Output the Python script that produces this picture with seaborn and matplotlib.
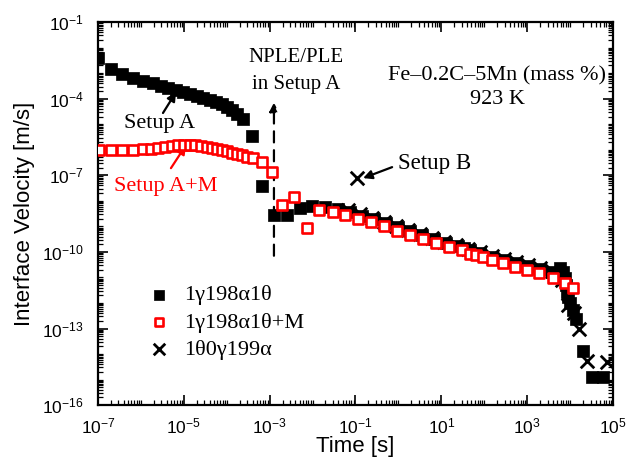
import numpy as np
import seaborn as sns
import matplotlib.pyplot as plt
from matplotlib.ticker import LogLocator, LogFormatterMathtext, NullFormatter

# log10 values
# Setup A (1γ198α1θ), black filled squares
log_t_a = [-7.0, -6.70, -6.44, -6.18, -5.95, -5.72, -5.53, -5.37, -5.18, -5.02,
           -4.86, -4.69, -4.55, -4.39, -4.25, -4.11, -3.99, -3.88, -3.76, -3.62,
           -3.41, -3.18, -2.90, -2.59, -2.29, -2.01, -1.71,
           -1.41, -1.13, -0.85, -0.57, -0.29, -0.01, 0.27, 0.55, 0.83, 1.11,
           1.39, 1.53, 1.67, 1.90, 2.18, 2.46, 2.74, 3.02, 3.30, 3.58,
           3.77, 3.84, 3.89, 3.91, 3.93, 3.96, 4.00, 4.07, 4.14, 4.31, 4.52, 4.77]
log_v_a = [-2.41, -2.84, -3.04, -3.19, -3.31, -3.39, -3.51, -3.59, -3.66, -3.74,
           -3.82, -3.90, -3.98, -4.06, -4.13, -4.21, -4.33, -4.45, -4.60, -4.80,
           -5.47, -7.42, -8.56, -8.56, -8.29, -8.21, -8.25,
           -8.32, -8.44, -8.60, -8.72, -8.87, -9.03, -9.19, -9.34, -9.50, -9.66,
           -9.77, -9.85, -9.93, -10.05, -10.20, -10.32, -10.44, -10.56, -10.67, -10.79,
           -10.64, -10.79, -11.03, -11.30, -11.58, -11.77, -12.01, -12.28, -12.63,
           -13.89, -14.91, -14.91]

# Setup A+M (1γ198α1θ+M), red open squares
log_t_m = [-6.98, -6.70, -6.44, -6.18, -5.95, -5.76, -5.60, -5.44, -5.28, -5.14,
           -5.00, -4.86, -4.74, -4.60, -4.46, -4.34, -4.23, -4.11, -3.99, -3.88,
           -3.76, -3.64, -3.53, -3.39, -3.18, -2.94,
           -2.71, -2.43, -2.13, -1.85, -1.52, -1.24, -0.94, -0.64, -0.33, -0.03,
           0.27, 0.58, 0.88, 1.18, 1.48, 1.67, 1.81, 1.97, 2.18, 2.44,
           2.72, 3.00, 3.28, 3.61, 3.89, 4.07]
log_v_m = [-6.01, -6.01, -6.01, -6.01, -5.97, -5.97, -5.94, -5.90, -5.86, -5.82,
           -5.82, -5.82, -5.82, -5.86, -5.90, -5.94, -5.97, -6.01, -6.05, -6.13,
           -6.17, -6.21, -6.29, -6.33, -6.48, -6.88,
           -8.17, -7.85, -9.07, -8.36, -8.44, -8.56, -8.72, -8.83, -8.99, -9.19,
           -9.34, -9.50, -9.66, -9.81, -9.93, -10.09, -10.13, -10.20, -10.32, -10.44,
           -10.60, -10.71, -10.83, -11.03, -11.22, -11.42]

# Setup B (1θ0γ199α), black crosses
log_t_b = [-0.96, -1.17, -0.89, -0.61, -0.33, -0.05, 0.23, 0.51, 0.79, 1.07,
           1.35, 1.62, 1.90, 2.18, 2.46, 2.74, 3.02, 3.30, 3.58, 3.82,
           3.96, 4.10, 4.21, 4.40, 4.86]
log_v_b = [-7.11, -8.36, -8.52, -8.68, -8.83, -8.99, -9.15, -9.30, -9.46, -9.62,
           -9.73, -9.89, -10.01, -10.17, -10.28, -10.40, -10.52, -10.64, -10.75, -11.11,
           -12.09, -12.40, -13.03, -14.28, -14.32]

labels = ["1γ198α1θ", "1γ198α1θ+M", "1θ0γ199α"]

t_a, v_a = 10.0 ** np.array(log_t_a), 10.0 ** np.array(log_v_a)
t_m, v_m = 10.0 ** np.array(log_t_m), 10.0 ** np.array(log_v_m)
t_b, v_b = 10.0 ** np.array(log_t_b), 10.0 ** np.array(log_v_b)

sns.set_theme(style="ticks")
plt.rcParams['font.family'] = ['Liberation Sans', 'DejaVu Sans']
plt.rcParams['mathtext.fontset'] = 'custom'
plt.rcParams['mathtext.rm'] = 'Liberation Sans'
plt.rcParams['mathtext.it'] = 'Liberation Sans'
for k in ['text.color', 'axes.labelcolor', 'xtick.color', 'ytick.color',
          'axes.edgecolor']:
    plt.rcParams[k] = 'black'

serif = ['Liberation Serif', 'DejaVu Serif']
fs = 16


def p(lt, lv):
    return (10.0 ** lt, 10.0 ** lv)


fig = plt.figure(figsize=(6.32, 4.70), dpi=100)
ax = fig.add_axes([0.155, 0.138, 0.815, 0.815])
ax.set_xscale('log')
ax.set_yscale('log')

sns.scatterplot(x=t_b, y=v_b, ax=ax, marker='x', s=95, color='black',
                linewidth=2.0, label=labels[2], zorder=3)
sns.scatterplot(x=t_a, y=v_a, ax=ax, marker='s', s=68, color='black',
                edgecolor='black', linewidth=0.5, label=labels[0], zorder=4)
sns.scatterplot(x=t_m, y=v_m, ax=ax, marker='s', s=50, facecolor='white',
                edgecolor='red', linewidth=1.9, label=labels[1], zorder=5)

ax.set_xticks([10.0 ** k for k in range(-7, 6, 2)])
ax.xaxis.set_minor_locator(LogLocator(base=10, subs=np.arange(1, 10), numticks=100))
ax.set_yticks([10.0 ** k for k in range(-16, 0, 3)])
ax.yaxis.set_minor_locator(LogLocator(base=10, subs=np.arange(1, 10), numticks=100))
ax.xaxis.set_major_formatter(LogFormatterMathtext())
ax.yaxis.set_major_formatter(LogFormatterMathtext())
ax.xaxis.set_minor_formatter(NullFormatter())
ax.yaxis.set_minor_formatter(NullFormatter())
ax.set_xlim(1e-7, 1e5)
ax.set_ylim(1e-16, 1e-1)

ax.tick_params(which='both', direction='in', top=True, right=True, color='black')
ax.tick_params(which='major', length=7, width=1.2, labelsize=12.5)
ax.tick_params(axis='x', which='major', pad=8)
ax.tick_params(axis='y', which='major', pad=10)
ax.tick_params(which='minor', length=3.5, width=0.9)
for sp in ax.spines.values():
    sp.set_linewidth(1.6)
    sp.set_color('black')

ax.set_xlabel("Time [s]", fontsize=16, labelpad=0)
ax.set_ylabel("Interface Velocity [m/s]", fontsize=16, labelpad=5)

arrow = dict(arrowstyle='-|>', lw=1.6, mutation_scale=13, shrinkA=0, shrinkB=0)

# Setup A
ax.annotate("", xy=p(-5.18, -3.74), xytext=p(-5.485, -4.56),
            arrowprops=dict(arrow, color='black'))
ax.text(*p(-5.555, -4.96), "Setup A", fontsize=fs, family=serif,
        ha='center', va='center', color='black')
# Setup A+M
ax.annotate("", xy=p(-4.95, -5.82), xytext=p(-5.30, -6.72),
            arrowprops=dict(arrow, color='red'))
ax.text(*p(-5.415, -7.42), "Setup A+M", fontsize=fs, family=serif,
        ha='center', va='center', color='red')
# Setup B
ax.annotate("", xy=p(-0.823, -7.11), xytext=p(-0.147, -6.68),
            arrowprops=dict(arrow, color='black'))
ax.text(*p(-0.007, -6.52), "Setup B", fontsize=16.5, family=serif,
        ha='left', va='center', color='black')
# NPLE/PLE dashed arrow
ax.annotate("", xy=p(-2.9, -4.15), xytext=p(-2.9, -10.15),
            arrowprops=dict(arrow, color='black', ls=(0, (5, 3.5))))
ax.text(*p(-2.385, -2.92), "NPLE/PLE\nin Setup A", fontsize=15, family=serif,
        ha='center', va='center', linespacing=1.55)
ax.text(*p(2.30, -3.57), "Fe–0.2C–5Mn (mass %)\n923 K", fontsize=fs,
        family=serif, ha='center', va='center', linespacing=1.3)

handles, labs = ax.get_legend_handles_labels()
order = [labs.index(l) for l in labels]
leg = ax.legend([handles[i] for i in order], [labs[i] for i in order],
                loc='lower left', bbox_to_anchor=(0.05, 0.066), frameon=False,
                prop={'family': serif, 'size': fs}, handletextpad=0.4,
                handlelength=1.4, labelspacing=0.3, markerscale=0.85)

fig.savefig("out.png", dpi=100)
